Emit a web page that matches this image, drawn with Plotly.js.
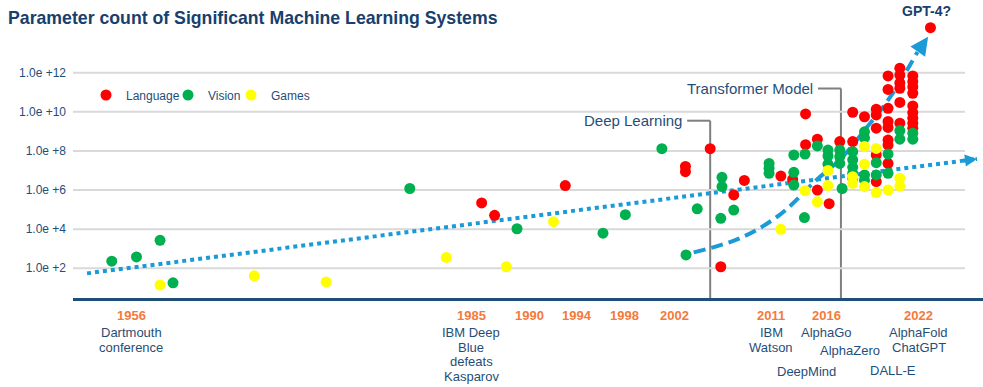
<!DOCTYPE html>
<html><head><meta charset="utf-8">
<script src="https://cdn.plot.ly/plotly-3.0.1.min.js"></script>
<style>html,body{margin:0;padding:0;background:#fff}#chart{width:983px;height:387px}</style>
</head><body><div id="chart"></div>
<script>
// ---- data ----
const langYear = [1985.9,1987.0,1993.0,2003.2,2003.2,2005.3,2006.2,2007.3,2008.2,2011.3,2012.3,2013.4,2013.4,2014.4,2014.4,2015.4,2016.3,2017.4,2017.4,2018.4,2019.4,2019.4,2019.4,2019.4,2019.4,2020.4,2020.4,2020.4,2020.4,2020.4,2020.4,2020.4,2020.4,2021.4,2021.4,2021.4,2021.4,2021.4,2021.4,2022.5,2022.5,2022.5,2022.5,2022.5,2022.5,2022.5,2022.5,2022.5,2024.0];
const langParams = [2.2e5,5.1e4,1.7e6,1.6e7,8.7e6,1.3e8,120,5.6e5,3.1e6,5.2e6,3.5e6,7.8e9,2.1e8,4.0e8,1.0e6,2.0e5,3.0e8,9.5e9,3.0e8,5.6e9,1.35e10,6.9e9,1.45e9,6.2e7,2.7e6,6.8e11,1.4e11,1.5e10,3.2e9,1.6e9,3.6e8,2.0e8,2.3e7,1.7e12,7.6e11,3.0e11,1.6e11,3.0e10,2.6e9,6.8e11,3.5e11,1.9e11,8.9e10,2.0e10,9.1e9,4.7e9,2.6e9,1.45e9,2.0e14];

const visionYear = [1954.5,1956.6,1958.6,1959.7,1979.8,1988.9,1996.2,1998.1,2001.2,2003.25,2004.2,2006.3,2006.3,2006.2,2007.3,2010.3,2010.3,2010.3,2012.4,2012.4,2012.4,2013.3,2013.35,2014.4,2015.3,2015.3,2015.3,2016.3,2016.3,2016.3,2016.5,2017.4,2017.4,2017.4,2017.4,2017.4,2018.4,2018.4,2018.4,2018.4,2019.4,2019.4,2020.4,2020.4,2021.4,2021.4,2022.5,2022.5];
const visionParams = [230,380,2700,18,1.2e6,1.05e4,6200,5.5e4,1.3e8,480,1.1e5,4.5e6,1.5e6,3.6e4,9.5e4,2.3e7,1.3e7,7.2e6,6.2e7,8.1e6,1.8e6,3.9e4,6.9e7,1.8e8,1.1e8,5.5e7,2.1e7,1.1e8,5.1e7,2.3e7,1.2e6,9.1e7,3.5e7,1.45e7,7.2e6,4.0e6,9.5e8,4.6e8,5.9e6,3.2e6,2.5e7,5.9e6,6.9e7,7.2e6,1.1e9,4.0e8,7.9e8,4.0e8];

const gamesYear = [1958.6,1966.6,1972.7,1982.9,1988.0,1992.0,2011.3,2013.35,2014.4,2015.3,2015.3,2017.4,2017.4,2018.4,2018.4,2018.4,2019.4,2019.4,2020.4,2021.4,2021.4];
const gamesParams = [14,41,20,360,120,2.4e4,9800,9.3e5,2.5e5,1.7e6,1.0e7,4.8e6,2.2e6,1.7e8,2.1e7,1.5e6,1.35e8,7.4e5,1.0e6,4.0e6,1.6e6];

const trendLinearYear = [1952.4, 2027.95];
const trendLinearParams = [55, 3.9e7];
const trendExpYear = [2003.9, 2007.8, 2011.2, 2014.3, 2016.3, 2018.3, 2020.6, 2022.9];
const trendExpParams = [650, 3400, 5.4e4, 3.2e6, 3.5e7, 9.5e8, 5.9e10, 1.15e13];
const trendExpTipYear = 2023.8;
const trendExpTipParams = 6.8e13;

const yTickVals = [1e2, 1e4, 1e6, 1e8, 1e10, 1e12];
const yTickText = ['1.0e +2','1.0e +4','1.0e +6','1.0e +8','1.0e +10','1.0e +12'];

const milestoneYears = [1956, 1985, 1990, 1994, 1998, 2002, 2011, 2016, 2022];
const milestoneNotes = ['Dartmouth|conference', 'IBM Deep|Blue|defeats|Kasparov', '', '', '', '', 'IBM|Watson', 'AlphaGo', 'AlphaFold|ChatGPT'];
const extraNotes = ['DeepMind', 'AlphaZero', 'DALL-E'];
const extraNoteYears = [2013.45, 2017.2, 2020.8];

const eraNames = ['Deep Learning', 'Transformer Model'];
const eraYears = [2005.3, 2016.4];

// ---- styling / layout ----
const FONT = 'Liberation Sans, Arial, sans-serif';
const NAVY = '#1f4e79';
const ORANGE = '#f47a3c';
const TREND = '#1a9ad6';
const xRange = [1951.21, 2028.46];
const yRange = [0.481, 14.694];
const gridEnd = 2026.93;
const pxPerYear = 11.78;
const rowGap = 14.7 / 278; // paper units per text row

const gx = [], gy = [];
yTickVals.forEach(v => { gx.push(xRange[0], gridEnd, null); gy.push(v, v, null); });

const traces = [
  {x: gx, y: gy, mode: 'lines', line: {color: '#d9d9d9', width: 2}, hoverinfo: 'skip', showlegend: false},
  {x: trendLinearYear, y: trendLinearParams, mode: 'lines', line: {color: TREND, width: 4, dash: '4px,4px'}, hoverinfo: 'skip', showlegend: false},
  {x: trendExpYear, y: trendExpParams, mode: 'lines', line: {color: TREND, width: 4, dash: '12px,6px', shape: 'spline'}, hoverinfo: 'skip', showlegend: false},
  {x: langYear, y: langParams, mode: 'markers', name: 'Language', legend: 'legend', marker: {color: '#ff0000', size: 11}},
  {x: visionYear, y: visionParams, mode: 'markers', name: 'Vision', legend: 'legend2', marker: {color: '#00b050', size: 11}},
  {x: gamesYear, y: gamesParams, mode: 'markers', name: 'Games', legend: 'legend3', marker: {color: '#ffff00', size: 11}}
];

const annotations = [];
const yearShift = {1956: 2, 2002: 3, 2011: -6, 2016: -10, 2022: 12};
milestoneYears.forEach((yr, i) => {
  const xs = yearShift[yr] || 0;
  annotations.push({x: yr, xref: 'x', y: (298 - 315.7) / 278, yref: 'paper', text: '<b>' + yr + '</b>',
    showarrow: false, xshift: xs, yanchor: 'middle', font: {family: FONT, size: 13, color: ORANGE}});
  if (milestoneNotes[i]) {
    milestoneNotes[i].split('|').forEach((line, j) => {
      annotations.push({x: yr, xref: 'x', y: (298 - 332.3) / 278 - j * rowGap, yref: 'paper', text: line,
        showarrow: false, xshift: xs, yanchor: 'middle', font: {family: FONT, size: 13, color: NAVY}});
    });
  }
});
const extraRows = [371, 350, 370];
extraNotes.forEach((t, i) => {
  annotations.push({x: extraNoteYears[i], xref: 'x', y: (298 - extraRows[i]) / 278, yref: 'paper', text: t,
    showarrow: false, yanchor: 'middle', font: {family: FONT, size: 13, color: NAVY}});
});

// era brackets
const eraRows = [120.7, 88.5];
const shapes = [];
eraNames.forEach((name, i) => {
  const yp = (298 - eraRows[i]) / 278;
  const xStart = eraYears[i] - 23 / pxPerYear;
  shapes.push({type: 'line', xref: 'x', yref: 'paper', x0: xStart, x1: eraYears[i], y0: yp, y1: yp, line: {color: '#7f7f7f', width: 2}, layer: 'below'});
  shapes.push({type: 'line', xref: 'x', yref: 'paper', x0: eraYears[i], x1: eraYears[i], y0: yp, y1: 0, line: {color: '#7f7f7f', width: 2}, layer: 'below'});
  annotations.push({x: xStart, xref: 'x', y: yp, yref: 'paper', text: name, showarrow: false, xanchor: 'right', xshift: -3,
    yanchor: 'middle', font: {family: FONT, size: 15, color: NAVY}});
});

// arrow heads for trends
const nL = trendLinearYear.length;
const slopeL = (Math.log10(trendLinearParams[nL-1]) - Math.log10(trendLinearParams[nL-2])) / (trendLinearYear[nL-1] - trendLinearYear[nL-2]);
annotations.push({x: trendLinearYear[nL-1], y: Math.log10(trendLinearParams[nL-1]), xref: 'x', yref: 'y',
  ax: trendLinearYear[nL-1] - 1.3, ay: Math.log10(trendLinearParams[nL-1]) - 1.3 * slopeL, axref: 'x', ayref: 'y',
  text: '', showarrow: true, arrowhead: 2, arrowsize: 0.6, arrowwidth: 4, arrowcolor: TREND});
const nE = trendExpYear.length;
annotations.push({x: trendExpTipYear, y: Math.log10(trendExpTipParams), xref: 'x', yref: 'y',
  ax: trendExpYear[nE-1], ay: Math.log10(trendExpParams[nE-1]), axref: 'x', ayref: 'y',
  text: '', showarrow: true, arrowhead: 2, arrowsize: 0.9, arrowwidth: 4, arrowcolor: TREND});

// GPT-4 label
const gi = langParams.length - 1;
annotations.push({x: langYear[gi], y: Math.log10(langParams[gi]), xref: 'x', yref: 'y', text: '<b>GPT-4?</b>', showarrow: false,
  yshift: 17, xshift: -4, font: {family: FONT, size: 14, color: '#17406d'}});

const legendY = (298 - 95) / 278;
const legendStyle = x => ({orientation: 'h', x: x, y: legendY, xanchor: 'left', yanchor: 'middle',
  font: {family: FONT, size: 12, color: NAVY}, bgcolor: 'rgba(0,0,0,0)'});

const layout = {
  width: 983, height: 387,
  margin: {l: 73, r: 0, t: 20, b: 89},
  paper_bgcolor: '#ffffff', plot_bgcolor: '#ffffff',
  font: {family: FONT, color: NAVY},
  title: {text: 'Parameter count of Significant Machine Learning Systems', x: 8/983, xref: 'container', xanchor: 'left',
    y: 1 - 18/387, yref: 'container', yanchor: 'middle', font: {family: FONT, size: 17.7, color: '#17406d', weight: 'bold'}},
  xaxis: {range: xRange, showgrid: false, zeroline: false, showticklabels: false, ticks: '',
    showline: true, linecolor: '#1f4e79', linewidth: 3, fixedrange: true},
  yaxis: {type: 'log', range: yRange, tickvals: yTickVals, ticktext: yTickText, showgrid: false, zeroline: false,
    showline: false, ticks: '', ticklabelstandoff: 6, tickfont: {family: FONT, size: 12, color: NAVY}, fixedrange: true},
  legend: legendStyle((106 - 20 - 73) / 910),
  legend2: legendStyle((188 - 20 - 73) / 910),
  legend3: legendStyle((251 - 20 - 73) / 910),
  shapes: shapes,
  annotations: annotations,
  showlegend: true
};

Plotly.newPlot('chart', traces, layout, {displayModeBar: false, staticPlot: true});
</script>
</body></html>
